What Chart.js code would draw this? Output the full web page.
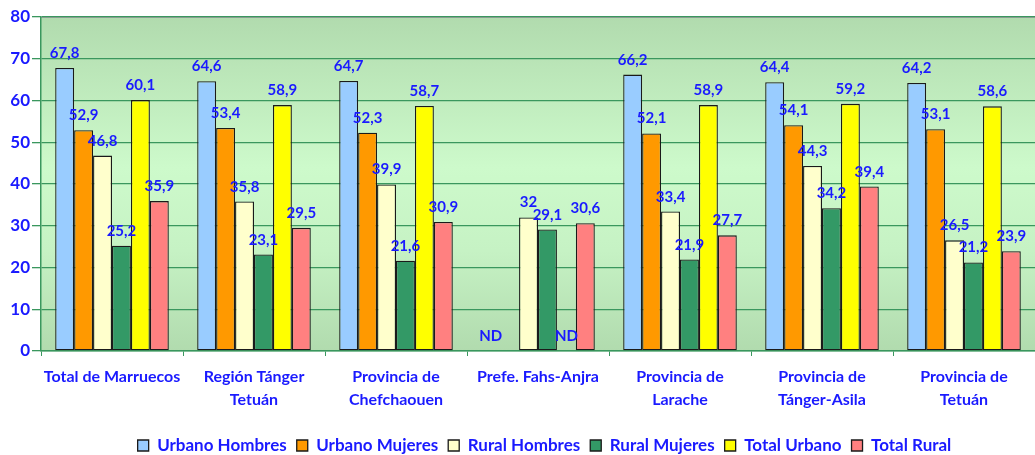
<!DOCTYPE html>
<html>
<head>
<meta charset="utf-8">
<script src="https://cdn.jsdelivr.net/npm/chart.js@4.4.1/dist/chart.umd.min.js"></script>
<style>
  html, body { margin: 0; padding: 0; background: #fff; }
  #c { display: block; }
</style>
</head>
<body>
<canvas id="c" width="1035" height="455"></canvas>
<script>
// —— datos —— //
const categories = [
  ['Total de Marruecos'],
  ['Región Tánger', 'Tetuán'],
  ['Provincia de', 'Chefchaouen'],
  ['Prefe. Fahs-Anjra'],
  ['Provincia de', 'Larache'],
  ['Provincia de', 'Tánger-Asila'],
  ['Provincia de', 'Tetuán']
];
const seriesNames = ['Urbano Hombres', 'Urbano Mujeres', 'Rural Hombres', 'Rural Mujeres', 'Total Urbano', 'Total Rural'];
const urbanoHombres = [67.8, 64.6, 64.7, null, 66.2, 64.4, 64.2];
const urbanoMujeres = [52.9, 53.4, 52.3, null, 52.1, 54.1, 53.1];
const ruralHombres  = [46.8, 35.8, 39.9, 32.0, 33.4, 44.3, 26.5];
const ruralMujeres  = [25.2, 23.1, 21.6, 29.1, 21.9, 34.2, 21.2];
const totalUrbano   = [60.1, 58.9, 58.7, null, 58.9, 59.2, 58.6];
const totalRural    = [35.9, 29.5, 30.9, 30.6, 27.7, 39.4, 23.9];
// [serie, categoría] sin dato que se marcan "ND"
const ndCells = [[0, 3], [4, 3]];
const yMin = 0, yMax = 80, yStep = 10;

const seriesValues = [urbanoHombres, urbanoMujeres, ruralHombres, ruralMujeres, totalUrbano, totalRural];
const seriesColors = ['#99ccff', '#ff9900', '#ffffcc', '#339966', '#ffff00', '#ff8080'];

const BLUE = '#1a1aff';
const GRID = '#3a975e';
const FONT = 'Lato, "Open Sans", sans-serif';

const fmt = v => String(v).replace('.', ',');

// fondo degradado del área de trazado
const plotBg = {
  id: 'plotBg',
  beforeDraw(chart){
    const { ctx, chartArea: a } = chart;
    const g = ctx.createLinearGradient(0, a.top, 0, a.bottom);
    g.addColorStop(0, '#b1dbae');
    g.addColorStop(0.45, '#cdfacb');
    g.addColorStop(0.7, '#c6f2c4');
    g.addColorStop(1, '#b1dbae');
    ctx.save();
    ctx.fillStyle = g;
    ctx.fillRect(a.left, a.top, a.right - a.left, a.bottom - a.top);
    ctx.strokeStyle = '#a0a0a0';
    ctx.lineWidth = 1;
    ctx.beginPath();
    ctx.moveTo(a.left, a.top + 0.5);
    ctx.lineTo(a.right, a.top + 0.5);
    ctx.stroke();
    ctx.restore();
  }
};

// la leyenda va centrada sobre el área de trazado, no sobre el lienzo
const legendShift = {
  id: 'legendShift',
  afterLayout(chart){
    const a = chart.chartArea;
    const dx = Math.round((a.left + a.right) / 2 - chart.width / 2) + 6;
    chart.legend.left += dx;
    chart.legend.right += dx;
  }
};

// etiquetas de valor encima de cada barra
const valueLabels = {
  id: 'valueLabels',
  afterDatasetsDraw(chart){
    const { ctx } = chart;
    const y0 = chart.scales.y.getPixelForValue(0);
    ctx.save();
    ctx.font = 'bold 15px ' + FONT;
    ctx.fillStyle = BLUE;
    ctx.textAlign = 'center';
    ctx.textBaseline = 'alphabetic';
    chart.data.datasets.forEach((ds, di) => {
      const meta = chart.getDatasetMeta(di);
      meta.data.forEach((bar, i) => {
        const v = ds.data[i];
        if(v === null || v === undefined){
          if(!ndCells.some(([s, c]) => s === di && c === i)) return;
          ctx.fillText('ND', bar.x, y0 - 10);
          return;
        }
        ctx.fillText(fmt(v), bar.x, bar.y - 10);
      });
    });
    ctx.restore();
  }
};

new Chart(document.getElementById('c'), {
  type: 'bar',
  data: {
    labels: categories,
    datasets: seriesNames.map((name, i) => ({
      label: name,
      data: seriesValues[i],
      backgroundColor: seriesColors[i],
      borderColor: '#1a1a1a',
      borderWidth: 1.3,
      borderSkipped: false,
      categoryPercentage: 0.8,
      barPercentage: 1.0
    }))
  },
  options: {
    responsive: false,
    animation: false,
    devicePixelRatio: 1,
    layout: { padding: { top: 17, right: 0, left: 0, bottom: -9 } },
    scales: {
      x: {
        grid: { offset: true, drawOnChartArea: false, drawTicks: true, tickLength: 5, color: GRID },
        border: { display: true, color: GRID, width: 1.5 },
        ticks: { color: BLUE, font: { family: FONT, size: 16, weight: 'bold', lineHeight: 1.45 }, padding: 9, maxRotation: 0, autoSkip: false },
        afterFit: s => { s.height = 76; }
      },
      y: {
        min: yMin, max: yMax,
        grid: { color: GRID, lineWidth: 1.3, tickLength: 9 },
        border: { display: true, color: GRID, width: 1.5 },
        ticks: { stepSize: yStep, color: BLUE, font: { family: FONT, size: 17, weight: 'bold' }, padding: 2 },
        afterFit: s => { s.width = 41; }
      }
    },
    plugins: {
      legend: {
        position: 'bottom',
        labels: {
          color: BLUE,
          font: { family: FONT, size: 17, weight: 'bold' },
          boxWidth: 11, boxHeight: 11,
          padding: 10
        }
      },
      tooltip: { enabled: false }
    }
  },
  plugins: [plotBg, legendShift, valueLabels]
});
</script>
</body>
</html>
